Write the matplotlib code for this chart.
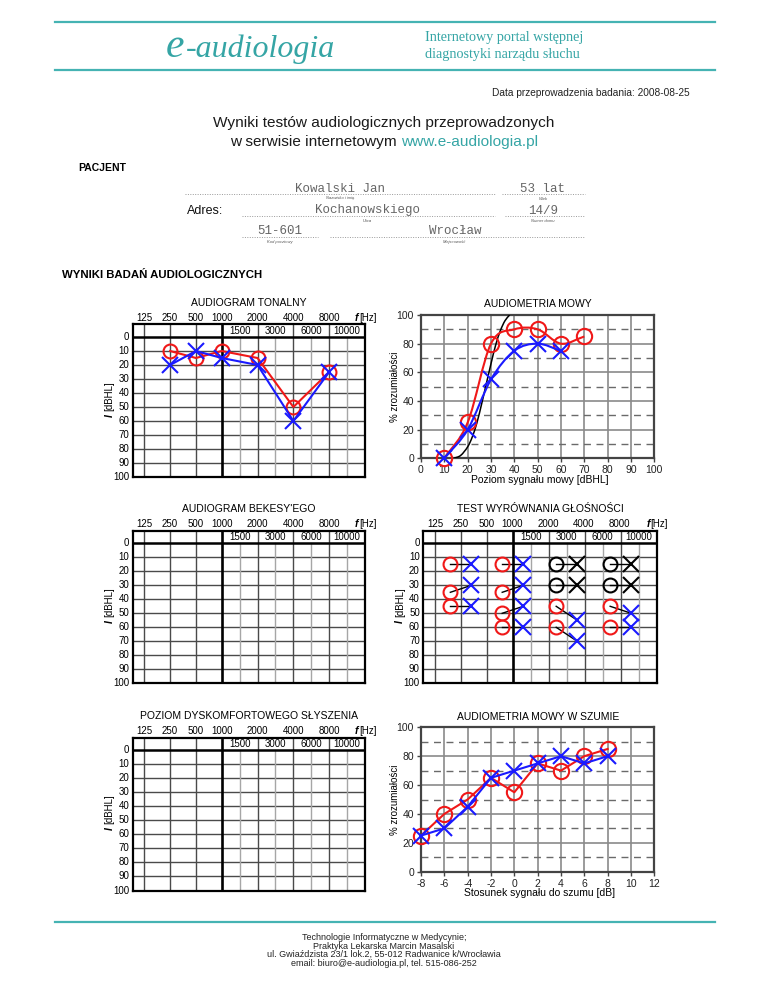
import numpy as np
import matplotlib
matplotlib.use('Agg')
import matplotlib.pyplot as plt
from matplotlib.lines import Line2D
from matplotlib.path import Path
from matplotlib.patches import PathPatch

plt.rcParams['font.family'] = ['Liberation Sans', 'DejaVu Sans']
plt.rcParams['axes.unicode_minus'] = False

# ---------------- data ----------------
patient_name = 'Kowalski Jan'
patient_age = '53 lat'
street = 'Kochanowskiego'
house_no = '14/9'
postcode = '51-601'
city = 'Wrocław'
exam_date = '2008-08-25'

grid_octave_labels = ['125', '250', '500', '1000', '2000', '4000', '8000']
grid_half_labels = ['1500', '3000', '6000', '10000']
level_ticks = [0, 10, 20, 30, 40, 50, 60, 70, 80, 90, 100]

# Audiogram tonalny (dB HL)
tone_freqs = ['250', '500', '1000', '2000', '4000', '8000']
tone_right = [10, 15, 10, 15, 50, 25]
tone_left = [20, 10, 15, 20, 60, 25]

# Audiometria mowy (% zrozumialosci)
speech_levels_right = [10, 20, 30, 40, 50, 60, 70]
speech_right = [0, 25, 80, 90, 90, 80, 85]
speech_levels_left = [10, 20, 30, 40, 50, 60]
speech_left = [0, 20, 55, 75, 80, 75]
norm_levels = [14, 17, 20, 22, 24, 26, 28, 30, 32, 34, 36, 38]
norm_values = [0, 2, 8, 15, 25, 38, 52, 66, 79, 89, 96, 100]

# Test wyrownania glosnosci
loud_freqs = ['250'] * 3 + ['1000'] * 4 + ['3000'] * 4 + ['8000'] * 4
loud_right = [15, 35, 45, 15, 35, 50, 60, 15, 30, 45, 60, 15, 30, 45, 60]
loud_left = [15, 30, 45, 15, 30, 45, 60, 15, 30, 55, 70, 15, 30, 50, 60]
loud_reference = [False] * 7 + [True, True, False, False, True, True, False, False]

# Audiometria mowy w szumie
snr = [-8, -6, -4, -2, 0, 2, 4, 6, 8]
noise_right = [25, 40, 50, 65, 55, 75, 70, 80, 85]
noise_left = [25, 30, 45, 65, 70, 75, 80, 75, 80]

# ---------------- layout ----------------
W, H = 768, 994
RED = '#f01818'
BLUE = '#1a1aff'
TEAL = '#45b3b3'
TEAL_TXT = '#35a5a5'

FREQ_POS = {'125': 11.6, '250': 37.4, '500': 63.2, '1000': 89.0,
            '1500': 106.9, '2000': 124.8, '3000': 142.7, '4000': 160.6,
            '6000': 178.5, '8000': 196.4, '10000': 214.3}
XMAX = 232.2

fig = plt.figure(figsize=(W / 100, H / 100), dpi=100)
renderer = fig.canvas.get_renderer()


def fx(x):
    return x / W


def fy(y):
    return 1 - y / H


def ptext(x, y, s, **kw):
    kw.setdefault('va', 'center')
    return fig.text(fx(x), fy(y), s, **kw)


def pline(x0, x1, y0, y1, **kw):
    fig.add_artist(Line2D([fx(x0), fx(x1)], [fy(y0), fy(y1)],
                          transform=fig.transFigure, **kw))


def width_px(t):
    return t.get_window_extent(renderer=renderer).width


# ---------------- header ----------------
pline(55, 715, 22, 22, color=TEAL, lw=1.6)
pline(55, 715, 70, 70, color=TEAL, lw=1.6)
t_e = ptext(166, 57, 'e', fontsize=30, family='Liberation Serif', style='italic',
            color=TEAL_TXT, va='baseline', ha='left')
we = width_px(t_e)
ptext(166 + we + 1, 57, '-audiologia', fontsize=23, family='Liberation Serif',
      style='italic', color=TEAL_TXT, va='baseline', ha='left')
ptext(425, 37, 'Internetowy portal wstępnej', fontsize=10.2, family='Liberation Serif',
      color=TEAL_TXT, ha='left')
ptext(425, 54.5, 'diagnostyki narządu słuchu', fontsize=10.2, family='Liberation Serif',
      color=TEAL_TXT, ha='left')
ptext(690, 93, 'Data przeprowadzenia badania: ' + exam_date, fontsize=7.3, ha='right',
      color='#222222')

ptext(384, 123, 'Wyniki testów audiologicznych przeprowadzonych', fontsize=11.1,
      ha='center', color='#1a1a1a')
ta = ptext(0, 142, 'w serwisie internetowym ', fontsize=11.1, ha='left', color='#1a1a1a')
tb = ptext(0, 142, 'www.e-audiologia.pl', fontsize=11.1, ha='left', color=TEAL_TXT)
wa, wb = width_px(ta), width_px(tb)
x0 = 384 - (wa + wb) / 2
ta.set_x(fx(x0))
tb.set_x(fx(x0 + wa))

# ---------------- patient ----------------
ptext(78, 168, 'PACJENT', fontsize=7.5, fontweight='bold', ha='left')
ptext(187, 211, 'Adres:', fontsize=9, ha='left', color='#111111')

fields = [
    (patient_name, 185, 495, 194, 'Nazwisko i imię'),
    (patient_age, 502, 585, 194, 'Wiek'),
    (street, 242, 495, 216, 'Ulica'),
    (house_no, 505, 585, 216, 'Numer domu'),
    (postcode, 242, 318, 237, 'Kod pocztowy'),
    (city, 330, 585, 237, 'Miejscowość'),
]
centers = {patient_name: 340, patient_age: 543, street: 367, house_no: 543,
           postcode: 280, city: 455}
for val, xa, xb, yl, cap in fields:
    pline(xa, xb, yl, yl, color='#9a9a9a', lw=0.7, linestyle=(0, (1, 1.5)))
    ptext(centers[val], yl - 5.5, val, fontsize=9, family='Liberation Mono',
          color='#666666', ha='center')
    ptext(centers[val], yl + 4.5, cap, fontsize=3, color='#555555', ha='center',
          style='italic')

ptext(62, 275, 'WYNIKI BADAŃ AUDIOLOGICZNYCH', fontsize=8.2, fontweight='bold',
      ha='left')


# ---------------- audiogram-type chart ----------------
def audiogram(left, right, top, zero, bottom, title, title_y, flab_y):
    ax = fig.add_axes([fx(left), fy(bottom), (right - left) / W, (bottom - top) / H])
    pxdb = (bottom - zero) / 100.0
    hdr = (zero - top) / pxdb
    ax.set_xlim(0, XMAX)
    ax.set_ylim(100, -hdr)
    ax.set_xticks([])
    ax.set_yticks([])
    for s in ax.spines.values():
        s.set_linewidth(1.6)
        s.set_color('black')
    for d in level_ticks[1:-1]:
        ax.plot([0, XMAX], [d, d], color='#4a4a4a', lw=1.0, zorder=1)
    for lab in grid_half_labels:
        ax.plot([FREQ_POS[lab]] * 2, [0, 100], color='#a6a6a6', lw=1.0, zorder=1)
        ax.text(FREQ_POS[lab], -hdr / 2, lab, ha='center', va='center', fontsize=7)
    for lab in grid_octave_labels:
        if lab == '1000':
            ax.plot([FREQ_POS[lab]] * 2, [-hdr, 100], color='black', lw=1.9, zorder=2)
        else:
            ax.plot([FREQ_POS[lab]] * 2, [-hdr, 100], color='#4a4a4a', lw=1.0, zorder=1)
        ptext(left + FREQ_POS[lab], flab_y, lab, ha='center', fontsize=7)
    ax.plot([0, XMAX], [0, 0], color='black', lw=1.8, zorder=2)
    for d in level_ticks:
        ptext(left - 3.5, zero + d * pxdb, str(d), ha='right', fontsize=7)
    ptext(right - 7, flab_y, 'f', ha='right', fontsize=7.5, fontweight='bold',
          style='italic')
    ptext(right - 6, flab_y, '[Hz]', ha='left', fontsize=7)
    ylx = left - 23
    ptext(ylx, zero + 56 * pxdb, 'I', rotation=90, ha='center', fontsize=7.5,
          fontweight='bold', style='italic')
    ptext(ylx, zero + 52.5 * pxdb, '[dBHL]', rotation=90, ha='center', va='bottom',
          fontsize=7)
    ptext((left + right) / 2, title_y, title, ha='center', fontsize=7.5)
    return ax


def catmull_path(xs, ys):
    P = np.column_stack([xs, ys]).astype(float)
    P = np.vstack([2 * P[0] - P[1], P, 2 * P[-1] - P[-2]])
    verts = [tuple(P[1])]
    codes = [Path.MOVETO]
    for i in range(1, len(P) - 2):
        p0, p1, p2, p3 = P[i - 1], P[i], P[i + 1], P[i + 2]
        c1 = p1 + (p2 - p0) / 6.0
        c2 = p2 - (p3 - p1) / 6.0
        verts += [tuple(c1), tuple(c2), tuple(p2)]
        codes += [Path.CURVE4] * 3
    return Path(verts, codes)


def speech_axes(left, right, top, bottom, xlim, xticks, title, title_y, xlabel,
                xlabel_y):
    ax = fig.add_axes([fx(left), fy(bottom), (right - left) / W, (bottom - top) / H])
    ax.set_xlim(*xlim)
    ax.set_ylim(0, 100)
    ax.set_xticks(xticks)
    ax.set_yticks([0, 20, 40, 60, 80, 100])
    ax.tick_params(direction='out', length=3, width=1.0, color='#444444',
                   labelsize=7.5, pad=2, labelcolor='#222222')
    for s in ax.spines.values():
        s.set_linewidth(1.6)
        s.set_color('#444444')
    for xv in xticks[1:-1]:
        ax.axvline(xv, color='#8a8a8a', lw=1.2, zorder=1)
    for yv in [20, 40, 60, 80]:
        ax.axhline(yv, color='#8a8a8a', lw=1.2, zorder=1)
    for yv in [10, 30, 50, 70, 90]:
        ax.axhline(yv, color='#6a6a6a', lw=1.0, dashes=(5, 4), zorder=1)
    ptext((left + right) / 2, title_y, title, ha='center', fontsize=7.5)
    ptext((left + right) / 2 + 2, xlabel_y, xlabel, ha='center', fontsize=7.5)
    ptext(left - 26, (top + bottom) / 2, '% zrozumiałości', rotation=90,
          ha='center', fontsize=7)
    return ax


# AUDIOGRAM TONALNY
ax1 = audiogram(132.7, 365, 324.3, 337, 477, 'AUDIOGRAM TONALNY', 303, 318)
xt = [FREQ_POS[f] for f in tone_freqs]
ax1.plot(xt, tone_right, color=RED, lw=1.5, marker='o', mfc='none', ms=10,
         mew=1.5, zorder=4)
ax1.plot(xt, tone_left, color=BLUE, lw=1.5, marker='x', ms=12, mew=1.5, zorder=5)

# AUDIOMETRIA MOWY
ax2 = speech_axes(421, 654.3, 315, 458.3, (0, 100), list(range(0, 101, 10)),
                  'AUDIOMETRIA MOWY', 304, 'Poziom sygnału mowy [dBHL]', 480)
ax2.add_patch(PathPatch(catmull_path(norm_levels, norm_values), fill=False,
                        edgecolor='black', lw=1.1, zorder=3))
ax2.add_patch(PathPatch(catmull_path(speech_levels_right, speech_right), fill=False,
                        edgecolor=RED, lw=1.5, zorder=4))
ax2.add_patch(PathPatch(catmull_path(speech_levels_left, speech_left), fill=False,
                        edgecolor=BLUE, lw=1.5, zorder=5))
ax2.plot(speech_levels_right, speech_right, ls='none', marker='o', mfc='none',
         mec=RED, ms=11, mew=1.5, zorder=4, clip_on=False)
ax2.plot(speech_levels_left, speech_left, ls='none', marker='x', color=BLUE, ms=12,
         mew=1.5, zorder=5, clip_on=False)

# AUDIOGRAM BEKESY'EGO
audiogram(132.7, 365, 530.7, 543.3, 683.3, "AUDIOGRAM BEKESY'EGO", 509, 524.3)

# TEST WYROWNANIA GLOSNOSCI
ax4 = audiogram(423.3, 656.7, 530.7, 543.3, 683.3, 'TEST WYRÓWNANIA GŁOŚNOŚCI',
                509, 524.3)
for f, r, l, ref in zip(loud_freqs, loud_right, loud_left, loud_reference):
    xc = FREQ_POS[f] - 10.5
    xx = FREQ_POS[f] + 10.5
    ax4.plot([xc, xx], [r, l], color='black', lw=1.0, zorder=3)
    ax4.plot(xc, r, marker='o', mfc='none', mec='black' if ref else RED, ms=10,
             mew=1.5, zorder=4)
    ax4.plot(xx, l, marker='x', color='black' if ref else BLUE, ms=12, mew=1.5,
             zorder=4)

# POZIOM DYSKOMFORTOWEGO SLYSZENIA
audiogram(132.7, 365, 737.7, 750.3, 890.5, 'POZIOM DYSKOMFORTOWEGO SŁYSZENIA',
          716, 731)

# AUDIOMETRIA MOWY W SZUMIE
ax6 = speech_axes(421, 654.3, 727.3, 871.7, (-8, 12), list(range(-8, 13, 2)),
                  'AUDIOMETRIA MOWY W SZUMIE', 717,
                  'Stosunek sygnału do szumu [dB]', 893)
ax6.plot(snr, noise_right, color=RED, lw=1.5, marker='o', mfc='none', ms=11,
         mew=1.5, zorder=4, clip_on=False)
ax6.plot(snr, noise_left, color=BLUE, lw=1.5, marker='x', ms=12, mew=1.5,
         zorder=5, clip_on=False)

# ---------------- footer ----------------
pline(55, 715, 922, 922, color=TEAL, lw=1.6)
footer = ['Technologie Informatyczne w Medycynie;',
          'Praktyka Lekarska Marcin Masalski',
          'ul. Gwiaździsta 23/1 lok.2, 55-012 Radwanice k/Wrocławia',
          'email: biuro@e-audiologia.pl, tel. 515-086-252']
for i, line in enumerate(footer):
    ptext(384, 938 + i * 8.4, line, ha='center', fontsize=6.5, color='#222222')

fig.savefig('out.png', dpi=100)
